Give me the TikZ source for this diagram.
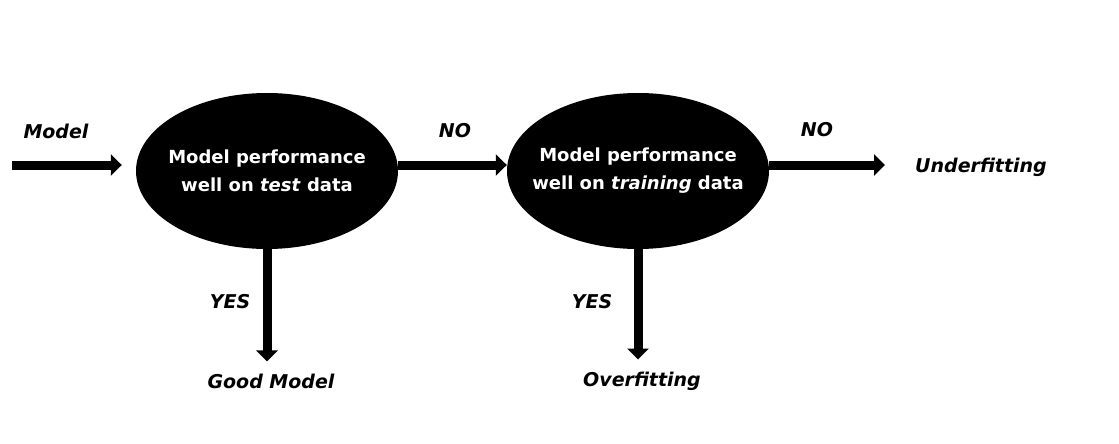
\documentclass[tikz,border=0pt]{standalone}
\usepackage{fontspec}
\setmainfont{DejaVu Sans}
\usetikzlibrary{arrows.meta,shapes.geometric}
\begin{document}
\begin{tikzpicture}[x=1pt, y=-1pt,
                    decision/.style={ellipse, fill=black, text=white, minimum width=262pt, minimum height=156pt, inner xsep=-25pt, inner ysep=0pt, align=center, font=\bfseries\fontsize{18}{28}\selectfont},
                    outcome/.style={inner sep=0pt, font=\bfseries\itshape\fontsize{19}{22}\selectfont},
                    flow/.style={line width=9pt, -{Triangle[width=21pt,length=11pt]}}]
\useasboundingbox (0,0) rectangle (1119,444);
% decisions
\node[decision] (test) at (267,171) {Model performance\\well on \textit{test} data};
\node[decision] (train) at (638,171) {Model performance\\well on \textit{training} data};
% texts
\node[outcome] (model) at (56,131) {Model};
\node[outcome] (no1) at (455,131) {NO};
\node[outcome] (no2) at (817,130) {NO};
\node[outcome] (under) at (981,167) {Underfitting};
\node[outcome] (yes1) at (230,302) {YES};
\node[outcome] (yes2) at (592,302) {YES};
\node[outcome] (good) at (271,381) {Good Model};
\node[outcome] (over) at (642,381) {Overfitting};
\coordinate (start) at (12,165);
% arrows
\draw[flow] (start) -- ([yshift=6pt]test.west) [shorten >=14pt];
\draw[flow] ([yshift=6pt]test.east) -- ([yshift=6pt]train.west);
\draw[flow] ([yshift=6pt]train.east) -- ([yshift=6pt]train.east -| under.west) [shorten >=30pt];
\draw[flow] (test.south) -- (test.south |- good.north) [shorten >=12pt];
\draw[flow] (train.south) -- (train.south |- over.north) [shorten >=12pt];
\end{tikzpicture}
\end{document}
